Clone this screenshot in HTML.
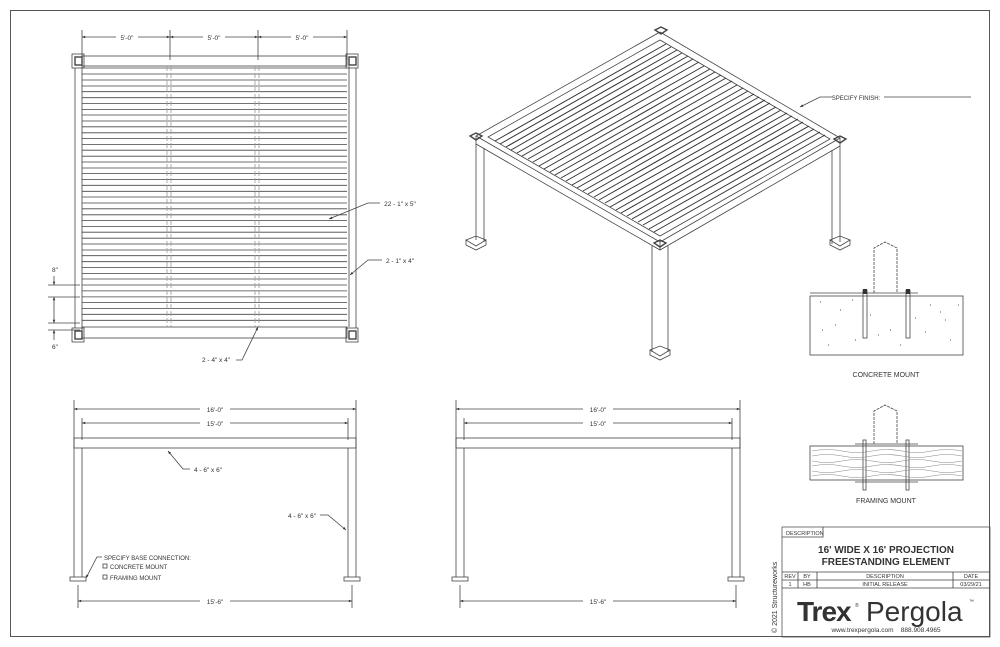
<!DOCTYPE html>
<html><head><style>
html,body{margin:0;padding:0;background:#fff;}
svg{display:block;font-family:"Liberation Sans",sans-serif;}
text{fill:#333;}
</style></head><body>
<svg width="1000" height="647" viewBox="0 0 1000 647" xmlns="http://www.w3.org/2000/svg">
<defs>
<marker id="a" viewBox="0 0 10 10" refX="10" refY="5" markerWidth="6" markerHeight="4" orient="auto-start-reverse"><path d="M0,1 L10,5 L0,9 z" fill="#333"/></marker>
</defs>
<rect x="10.5" y="10.5" width="979" height="626" fill="none" stroke="#555" stroke-width="1"/>
<g stroke="#444" fill="none" stroke-width="0.8">
<line x1="82" y1="30" x2="82" y2="60"/><line x1="170" y1="30" x2="170" y2="60"/><line x1="258" y1="30" x2="258" y2="60"/><line x1="347" y1="30" x2="347" y2="60"/>
<line x1="82" y1="37" x2="170" y2="37" marker-start="url(#a)" marker-end="url(#a)"/>
<line x1="170" y1="37" x2="258" y2="37" marker-start="url(#a)" marker-end="url(#a)"/>
<line x1="258" y1="37" x2="347" y2="37" marker-start="url(#a)" marker-end="url(#a)"/>
<rect x="72" y="54" width="12" height="14"/><rect x="75" y="57" width="7" height="8" stroke-width="1.4"/>
<rect x="346" y="54" width="12" height="14"/><rect x="349" y="57" width="7" height="8" stroke-width="1.4"/>
<rect x="72" y="328" width="12" height="14"/><rect x="75" y="331" width="7" height="8" stroke-width="1.4"/>
<rect x="346" y="328" width="12" height="14"/><rect x="349" y="331" width="7" height="8" stroke-width="1.4"/>
<rect x="82" y="56" width="265" height="10"/>
<rect x="82" y="327" width="265" height="11"/>
<line x1="75" y1="68" x2="75" y2="328"/><line x1="82" y1="66" x2="82" y2="327"/>
<line x1="349" y1="66" x2="349" y2="327"/><line x1="356" y1="68" x2="356" y2="328"/>
<path d="M82 68H347M82 74H347M82 80H347M82 86H347M82 91.7H347M82 97.7H347M82 103.4H347M82 109.4H347M82 115H347M82 121H347M82 126.8H347M82 132.8H347M82 138.5H347M82 144.5H347M82 150.2H347M82 156.2H347M82 162H347M82 168H347M82 173.6H347M82 179.6H347M82 185.3H347M82 191.3H347M82 197H347M82 203H347M82 208.8H347M82 214.8H347M82 220.5H347M82 226.5H347M82 232.2H347M82 238.2H347M82 244H347M82 250H347M82 255.7H347M82 261.7H347M82 267.4H347M82 273.4H347M82 279H347M82 285H347M82 290.9H347M82 296.9H347M82 302.6H347M82 308.6H347M82 314.3H347M82 320.3H347"/>
<path d="M167 66V327M171 66V327M255 66V327M259 66V327" stroke="#999" stroke-dasharray="5 2"/>
<line x1="48" y1="285" x2="80" y2="285"/><line x1="48" y1="297" x2="80" y2="297"/><line x1="48" y1="323" x2="80" y2="323"/><line x1="48" y1="330" x2="80" y2="330"/>
<line x1="54" y1="276" x2="54" y2="285" marker-end="url(#a)"/>
<line x1="54" y1="297" x2="54" y2="323" marker-start="url(#a)" marker-end="url(#a)"/>
<line x1="54" y1="340" x2="54" y2="330" marker-end="url(#a)"/>
<path d="M380 203 L368 203 L329 219" marker-end="url(#a)"/>
<path d="M382 260 L368 260 L350 275" marker-end="url(#a)"/>
<path d="M236 360 L242 360 L258 327" marker-end="url(#a)"/>
<path d="M660 32 L476 136 L476 144 L660 250 L660 242 L476 136 M660 250 L840 146 L840 138 L660 242 M660 32 L840 138"/>
<path d="M660 40 L488 137 L660 236 L830 139 Z"/>
<path d="M476 144 L476 240 M484 148 L484 242 M840 146 L840 242 M832 150 L832 244 M652 246 L652 352 M668 246 L668 352"/>
<path d="M466 240 L476 236 L486 240 L476 246 Z M466 240 V245 L476 250 L486 245 V240 M830 240 L840 236 L850 240 L840 246 Z M830 240 V245 L840 250 L850 245 V240 M650 350 L660 346 L670 350 L660 356 Z M650 350 V355 L660 360 L670 355 V350"/>
<path d="M655 30 L661 27 L667 30 L661 34Z M470 136 L476 133 L482 136 L476 140Z M834 139 L840 136 L846 139 L840 143Z M654 243 L660 240 L666 243 L660 247Z" stroke-width="1.4"/>
<g stroke="#333" stroke-width="1">
<path d="M495 141 L666 44 M500 144 L671 47 M506 147 L677 50 M511 150 L682 53 M517 153 L688 56 M522 156 L693 59 M528 159 L699 62 M533 162 L704 66 M539 166 L710 69 M544 169 L715 72 M550 172 L721 75 M555 175 L726 78 M561 178 L732 81 M566 181 L737 85 M572 185 L743 88 M577 188 L748 91 M583 191 L754 94 M588 194 L759 97 M594 197 L765 100 M599 200 L770 103 M605 203 L776 107 M610 207 L781 110 M616 210 L787 113 M621 213 L792 116 M627 216 L798 119 M632 219 L803 122 M638 222 L809 126 M643 225 L814 129 M649 229 L820 132 M654 232 L825 135"/>
</g>
<path d="M832 97 L820 97 L800 107" marker-end="url(#a)"/>
<line x1="884" y1="97" x2="971" y2="97"/>
<rect x="810" y="296" width="153" height="59"/>
<line x1="810" y1="293" x2="918" y2="293"/>
<path d="M874 293 V248 L885 242 L897 248 V293" stroke-dasharray="3 1"/>
<rect x="863" y="290" width="4" height="48"/><rect x="906" y="290" width="4" height="48"/>
<g fill="#333" stroke="none"><rect x="863" y="289" width="4" height="5"/><rect x="906" y="289" width="4" height="5"/></g>
<g stroke="#777" stroke-width="1.2"><path d="M820 302h1M840 310h1M870 315h1M890 330h1M930 305h1M945 320h1M822 330h1M855 340h1M900 345h1M950 340h1M835 325h1M915 318h1M940 312h1M852 300h1M878 335h1M925 332h1M958 305h1M828 345h1"/></g>
<rect x="810" y="446" width="153" height="34"/>
<line x1="855" y1="444" x2="918" y2="444"/>
<line x1="855" y1="482" x2="918" y2="482"/>
<path d="M874 444 V411 L885 405 L897 411 V444" stroke-dasharray="3 1"/>
<rect x="863" y="440" width="3" height="50"/><rect x="906" y="440" width="3" height="50"/>
<g stroke="#888" stroke-width="0.6"><path d="M812 451 q15 -3 30 0 t30 0 t30 0 t30 0 t30 0M812 456 q15 -3 30 0 t30 0 t30 0 t30 0 t30 0M812 461 q15 3 30 0 t30 0 t30 0 t30 0 t30 0M812 466 q15 -3 30 0 t30 0 t30 0 t30 0 t30 0M812 471 q15 3 30 0 t30 0 t30 0 t30 0 t30 0M812 476 q15 -3 30 0 t30 0 t30 0 t30 0 t30 0"/></g>
<line x1="74" y1="400" x2="74" y2="440"/><line x1="356" y1="400" x2="356" y2="440"/><line x1="82" y1="418" x2="82" y2="440"/><line x1="348" y1="418" x2="348" y2="440"/>
<line x1="74" y1="409" x2="356" y2="409" marker-start="url(#a)" marker-end="url(#a)"/>
<line x1="82" y1="423" x2="348" y2="423" marker-start="url(#a)" marker-end="url(#a)"/>
<rect x="74" y="438" width="282" height="10"/>
<line x1="74" y1="438" x2="74" y2="577"/><line x1="82" y1="448" x2="82" y2="577"/><line x1="348" y1="448" x2="348" y2="577"/><line x1="356" y1="438" x2="356" y2="577"/>
<rect x="70" y="577" width="16" height="4"/><rect x="344" y="577" width="16" height="4"/>
<line x1="78" y1="585" x2="78" y2="608"/><line x1="352" y1="585" x2="352" y2="608"/>
<line x1="78" y1="601" x2="352" y2="601" marker-start="url(#a)" marker-end="url(#a)"/>
<path d="M190 469 L183 469 L168 451" marker-end="url(#a)"/>
<path d="M320 515 L328 515 L346 530" marker-end="url(#a)"/>
<path d="M102 557 L97 557 L86 578" marker-end="url(#a)"/>
<rect x="103" y="564" width="4" height="4"/><rect x="103" y="575" width="4" height="4"/>
<line x1="456" y1="400" x2="456" y2="440"/><line x1="740" y1="400" x2="740" y2="440"/><line x1="464" y1="418" x2="464" y2="440"/><line x1="732" y1="418" x2="732" y2="440"/>
<line x1="456" y1="409" x2="740" y2="409" marker-start="url(#a)" marker-end="url(#a)"/>
<line x1="464" y1="423" x2="732" y2="423" marker-start="url(#a)" marker-end="url(#a)"/>
<rect x="456" y="438" width="284" height="10"/>
<line x1="456" y1="438" x2="456" y2="577"/><line x1="464" y1="448" x2="464" y2="577"/><line x1="732" y1="448" x2="732" y2="577"/><line x1="740" y1="438" x2="740" y2="577"/>
<rect x="452" y="577" width="16" height="4"/><rect x="728" y="577" width="16" height="4"/>
<line x1="460" y1="585" x2="460" y2="608"/><line x1="736" y1="585" x2="736" y2="608"/>
<line x1="460" y1="601" x2="736" y2="601" marker-start="url(#a)" marker-end="url(#a)"/>
<rect x="782" y="527" width="208" height="110" stroke="#555"/>
<path d="M782 537 H823 V527"/>
<path d="M782 572 H990 M782 580 H990 M782 588 H990 M798 572 V588 M817 572 V588 M953 572 V588"/>
</g>
<g font-size="6.5" text-anchor="middle">
<rect x="116" y="33" width="22" height="8" fill="#fff"/><text x="127" y="40">5'-0"</text>
<rect x="203" y="33" width="22" height="8" fill="#fff"/><text x="214" y="40">5'-0"</text>
<rect x="291" y="33" width="22" height="8" fill="#fff"/><text x="302" y="40">5'-0"</text>
<text x="55" y="272">8"</text><text x="55" y="349">6"</text>
<text x="400" y="206">22 - 1" x 5"</text>
<text x="400" y="263">2 - 1" x 4"</text>
<text x="216" y="362">2 - 4" x 4"</text>
<text x="856" y="100" font-size="6">SPECIFY FINISH:</text>
<rect x="200" y="405" width="30" height="8" fill="#fff"/><text x="215" y="412">16'-0"</text>
<rect x="200" y="419" width="30" height="8" fill="#fff"/><text x="215" y="426">15'-0"</text>
<rect x="583" y="405" width="30" height="8" fill="#fff"/><text x="598" y="412">16'-0"</text>
<rect x="583" y="419" width="30" height="8" fill="#fff"/><text x="598" y="426">15'-0"</text>
<rect x="200" y="597" width="30" height="8" fill="#fff"/><text x="215" y="604">15'-6"</text>
<rect x="583" y="597" width="30" height="8" fill="#fff"/><text x="598" y="604">15'-6"</text>
<text x="208" y="472">4 - 6" x 6"</text>
<text x="302" y="518">4 - 6" x 6"</text>
<text x="886" y="377" font-size="7">CONCRETE MOUNT</text>
<text x="886" y="503" font-size="7">FRAMING MOUNT</text>
</g>
<g font-size="6" text-anchor="start">
<text x="104" y="560">SPECIFY BASE CONNECTION:</text>
<text x="110" y="569">CONCRETE MOUNT</text>
<text x="110" y="580">FRAMING MOUNT</text>
<text x="786" y="535" font-size="5.5">DESCRIPTION</text>
</g>
<g text-anchor="middle" font-size="5.5">
<text x="886" y="553" font-size="10" font-weight="bold">16' WIDE X 16' PROJECTION</text>
<text x="886" y="565" font-size="10" font-weight="bold">FREESTANDING ELEMENT</text>
<text x="790" y="578">REV</text><text x="807" y="578">BY</text><text x="885" y="578">DESCRIPTION</text><text x="971" y="578">DATE</text>
<text x="790" y="586">1</text><text x="807" y="586">HB</text><text x="885" y="586">INITIAL RELEASE</text><text x="971" y="586">03/29/21</text>
<text x="886" y="632" font-size="6.5">www.trexpergola.com &#160;&#160; 888.908.4965</text>
</g>
<text x="797" y="621" font-size="28" font-weight="bold" fill="#111" letter-spacing="-1">Trex</text>
<text x="855" y="607" font-size="5" fill="#111">®</text>
<text x="866" y="621" font-size="28" fill="#111">Pergola</text>
<text x="969" y="603" font-size="5" fill="#111">™</text>
<text transform="translate(777,633) rotate(-90)" font-size="7" fill="#444">© 2021 Structureworks</text>
</svg>
</body></html>
